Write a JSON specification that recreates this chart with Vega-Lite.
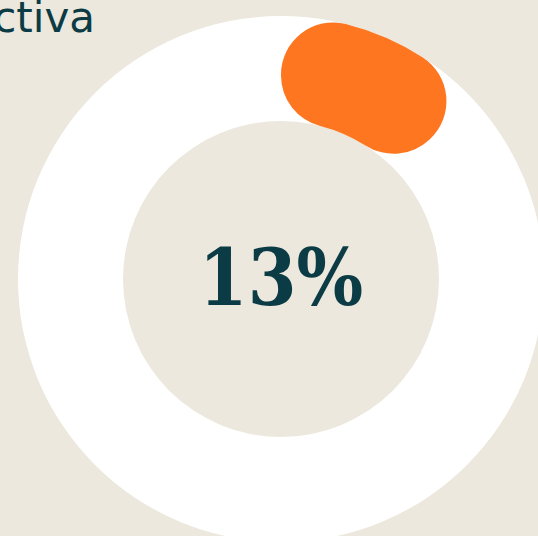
{
  "$schema": "https://vega.github.io/schema/vega-lite/v6.json",
  "autosize": {"type": "none"},
  "width": 514,
  "height": 514,
  "padding": {"left": 24, "top": 22, "right": 0, "bottom": 0},
  "background": "#ece8dd",
  "title": {
    "text": "Efectiva",
    "anchor": "start",
    "frame": "group",
    "orient": "top",
    "align": "right",
    "baseline": "alphabetic",
    "offset": -58,
    "dx": 71,
    "font": "DejaVu Sans",
    "fontSize": 42,
    "fontWeight": 400,
    "color": "#0b3b44"
  },
  "layer": [
    {
      "data": {"values": [{"part": "ring", "value": 100}]},
      "mark": {"type": "arc", "radius": 263, "radius2": 158, "color": "#ffffff"},
      "encoding": {
        "theta": {"field": "value", "type": "quantitative"}
      }
    },
    {
      "data": {"values": [{"status": "done", "value": 13}, {"status": "rest", "value": 87}]},
      "mark": {"type": "arc", "radius": 263, "radius2": 158, "cornerRadius": 52},
      "encoding": {
        "theta": {"field": "value", "type": "quantitative", "stack": true},
        "color": {
          "field": "status",
          "type": "nominal",
          "scale": {"domain": ["done", "rest"], "range": ["#fe7720", "rgba(0,0,0,0)"]},
          "legend": null
        },
        "order": {"field": "status"}
      }
    },
    {
      "data": {"values": [{"label": "13%"}]},
      "mark": {
        "type": "text",
        "font": "DejaVu Serif Condensed",
        "fontWeight": "bold",
        "fontSize": 78,
        "baseline": "alphabetic",
        "align": "center",
        "dy": 26,
        "color": "#0b3b44"
      },
      "encoding": {
        "text": {"field": "label", "type": "nominal"}
      }
    }
  ],
  "config": {"view": {"stroke": null}}
}
